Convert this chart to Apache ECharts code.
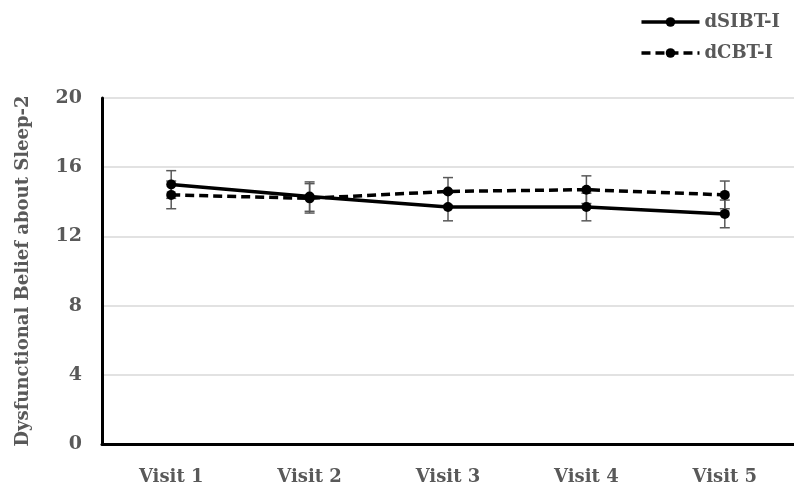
<!DOCTYPE html>
<html>
<head>
<meta charset="utf-8">
<script src="https://cdn.jsdelivr.net/npm/echarts@6/dist/echarts.min.js"></script>
<style>
  html, body { margin: 0; padding: 0; background: #fff; }
  #chart { width: 794px; height: 491px; }
</style>
</head>
<body>
<div id="chart"></div>
<script>
// Visits and mean scores (± error) for the two treatment groups
const visits = ['Visit 1', 'Visit 2', 'Visit 3', 'Visit 4', 'Visit 5'];
const sibtMean = [15.0, 14.3, 13.7, 13.7, 13.3];
const sibtErr  = [0.8, 0.85, 0.8, 0.8, 0.8];
const cbtMean  = [14.4, 14.2, 14.6, 14.7, 14.4];
const cbtErr   = [0.8, 0.85, 0.8, 0.8, 0.8];
const yTicks   = [0, 4, 8, 12, 16, 20];

const FONT = '"DejaVu Serif", serif';
const GREY = '#595959';

function errorBars(mean, err) {
  return mean.map((m, i) => [i, m - err[i], m + err[i]]);
}

function renderErr(params, api) {
  const x = api.value(0);
  const lo = api.coord([x, api.value(1)]);
  const hi = api.coord([x, api.value(2)]);
  const cap = 5;
  const style = { stroke: GREY, lineWidth: 1.5, fill: null };
  return {
    type: 'group',
    children: [
      { type: 'line', shape: { x1: hi[0], y1: hi[1], x2: lo[0], y2: lo[1] }, style },
      { type: 'line', shape: { x1: hi[0] - cap, y1: hi[1], x2: hi[0] + cap, y2: hi[1] }, style },
      { type: 'line', shape: { x1: lo[0] - cap, y1: lo[1], x2: lo[0] + cap, y2: lo[1] }, style }
    ]
  };
}

const chart = echarts.init(document.getElementById('chart'), null, { renderer: 'canvas' });
chart.setOption({
  animation: false,
  backgroundColor: '#fff',
  grid: { left: 102, top: 98, bottom: 47, width: 700, containLabel: false },
  legend: {
    orient: 'vertical',
    right: 9,
    top: 8,
    itemWidth: 58,
    itemHeight: 12,
    itemGap: 13,
    data: ['dSIBT-I', 'dCBT-I'],
    lineStyle: { width: 3.5 },
    textStyle: { fontFamily: FONT, fontWeight: 'bold', fontSize: 18, color: GREY }
  },
  xAxis: {
    type: 'category',
    data: visits,
    boundaryGap: true,
    axisLine: { lineStyle: { color: '#000', width: 3 } },
    axisTick: { show: false },
    axisLabel: {
      margin: 24,
      fontFamily: FONT, fontWeight: 'bold', fontSize: 18, color: GREY
    }
  },
  yAxis: {
    type: 'value',
    min: 0, max: 20, interval: 4,
    name: 'Dysfunctional Belief about Sleep-2',
    nameLocation: 'middle',
    nameGap: 70,
    nameTextStyle: { fontFamily: FONT, fontWeight: 'bold', fontSize: 18, color: GREY },
    axisLine: { show: true, lineStyle: { color: '#000', width: 3 } },
    axisTick: { show: false },
    splitLine: { lineStyle: { color: '#d9d9d9', width: 1.5 } },
    axisLabel: {
      margin: 20,
      fontFamily: FONT, fontWeight: 'bold', fontSize: 19, color: GREY,
      formatter: v => yTicks.includes(v) ? String(v) : ''
    }
  },
  series: [
    {
      name: 'dSIBT-I',
      type: 'line',
      data: sibtMean,
      symbol: 'circle',
      symbolSize: 10,
      z: 3,
      itemStyle: { color: '#000' },
      lineStyle: { color: '#000', width: 3.5 }
    },
    {
      name: 'dCBT-I',
      type: 'line',
      data: cbtMean,
      symbol: 'circle',
      symbolSize: 10,
      z: 3,
      itemStyle: { color: '#000' },
      lineStyle: { color: '#000', width: 3.5, type: [9, 5] }
    },
    {
      type: 'custom',
      data: errorBars(sibtMean, sibtErr),
      renderItem: renderErr,
      encode: { x: 0, y: [1, 2] },
      z: 2,
      silent: true
    },
    {
      type: 'custom',
      data: errorBars(cbtMean, cbtErr),
      renderItem: renderErr,
      encode: { x: 0, y: [1, 2] },
      z: 2,
      silent: true
    }
  ]
});
</script>
</body>
</html>
